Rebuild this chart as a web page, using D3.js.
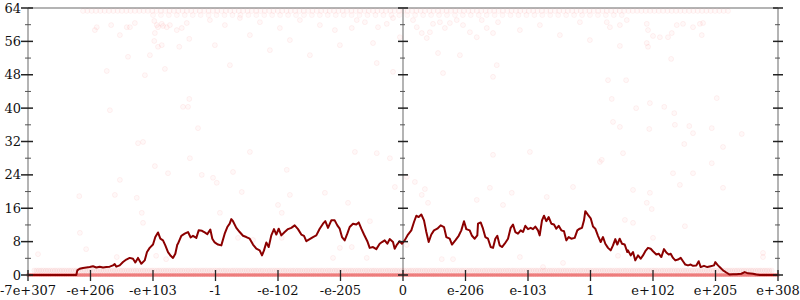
<!DOCTYPE html>
<html><head><meta charset="utf-8">
<script src="https://cdn.jsdelivr.net/npm/d3@7"></script>
<style>body{margin:0;background:#fff}svg{display:block}</style>
</head><body><svg id="c" width="800" height="300"></svg>
<script>
// ---- data ----
const xTickValues = [0,1,2,3,4,5,6,7,8,9,10,11,12];
const xTickLabels = ["-7e+307","-e+206","-e+103","-1","-e-102","-e-205","0","e-206","e-103","1","e+102","e+205","e+308"];
const yMajorTicks = [0,8,16,24,32,40,48,56,64];
const yMinorTicks = [4,12,20,28,36,44,52,60];

const lineX = [0,0.773,0.789,0.827,0.88,0.933,0.987,1.04,1.093,1.147,1.2,1.253,1.307,1.36,1.387,1.413,1.467,1.52,1.573,1.627,1.68,1.717,1.76,1.813,1.867,1.904,1.947,2.0,2.037,2.08,2.117,2.16,2.197,2.24,2.283,2.32,2.357,2.389,
2.4,2.453,2.507,2.56,2.603,2.64,2.693,2.731,2.784,2.827,2.869,2.917,2.949,2.987,3.04,3.093,3.147,3.189,3.227,3.253,3.28,3.333,3.387,3.44,3.493,3.547,3.6,3.653,3.707,3.744,3.776,3.813,3.851,3.893,3.936,3.973,4.011,4.053,4.107,4.16,4.213,4.267,4.32,4.373,4.416,4.453,4.507,4.56,4.613,4.667,4.72,4.757,
4.8,4.853,4.907,4.949,4.987,5.024,5.067,5.109,5.147,5.2,5.253,5.291,5.333,5.376,5.429,5.467,5.52,5.573,5.627,5.664,5.707,5.749,5.787,5.84,5.867,5.904,5.947,5.984,6.027,6.08,6.133,6.176,6.213,6.251,6.293,6.336,6.373,6.411,6.453,6.496,6.549,6.603,6.656,6.693,6.747,6.784,6.837,6.891,6.933,6.976,7.013,7.067,7.104,7.147,7.189,
7.2,7.243,7.28,7.317,7.36,7.403,7.44,7.477,7.509,7.547,7.584,7.627,7.68,7.723,7.76,7.797,7.84,7.883,7.92,7.957,8.0,8.043,8.08,8.117,8.16,8.187,8.224,8.256,8.293,8.331,8.373,8.416,8.453,8.491,8.533,8.576,8.613,8.651,8.693,8.747,8.789,8.827,8.864,8.896,8.917,8.96,9.003,9.04,9.077,9.12,9.163,9.2,9.237,9.28,9.323,9.36,9.397,9.429,9.467,9.504,9.547,9.589,
9.6,9.643,9.68,9.717,9.76,9.803,9.84,9.877,9.92,9.963,10.0,10.053,10.091,10.133,10.176,10.213,10.251,10.283,10.32,10.357,10.4,10.443,10.48,10.517,10.56,10.603,10.64,10.693,10.731,10.763,10.816,10.869,10.923,10.976,10.997,11.029,11.067,11.12,11.173,11.227,11.28,11.333,11.413,11.467,11.52,11.6,11.653,11.707,12];
const lineY = [0,0,1.1,1.5,1.7,1.8,1.9,2.1,1.8,2.0,1.8,1.9,2.0,2.3,2.6,2.0,2.3,3.1,3.7,4.1,3.9,3.0,4.1,2.7,3.5,5.5,6.5,7.3,9.1,10.2,8.7,8.3,7.1,5.5,4.6,4.1,5.1,7.3,
7.5,9.4,9.9,10.3,9.0,9.4,8.9,10.7,10.6,10.2,9.8,10.9,8.7,7.8,7.3,7.1,9.9,11.5,12.3,13.4,12.9,11.3,10.3,9.4,9.1,8.7,7.3,6.3,5.9,4.7,5.9,7.8,6.7,9.5,11.0,9.7,11.1,9.5,10.3,11.0,11.3,11.9,11.0,9.7,9.4,8.1,8.6,9.1,9.5,11.1,12.3,12.9,
11.3,13.1,13.1,11.9,11.1,9.1,8.3,9.9,11.5,12.3,12.1,12.6,11.1,9.7,8.1,6.5,6.7,6.2,7.5,7.9,8.3,7.5,8.6,7.9,6.3,7.3,8.1,7.5,8.3,9.7,10.7,12.7,14.2,13.9,14.5,13.1,10.3,7.9,9.7,10.7,11.1,11.9,11.5,9.1,8.7,7.3,8.3,9.4,10.7,12.9,11.0,10.7,9.4,8.7,9.5,
12.3,12.6,11.1,9.1,8.7,6.7,6.5,8.7,9.4,7.1,6.7,7.5,8.7,11.3,12.1,10.3,9.9,10.7,10.3,11.8,11.0,11.3,11.0,11.6,10.7,9.5,13.1,14.2,12.9,13.9,12.3,12.1,11.1,11.8,10.7,10.5,8.3,9.1,8.7,8.9,10.7,11.1,11.3,13.1,15.3,14.4,13.6,11.6,11.1,9.4,7.9,9.1,7.5,6.5,5.9,7.1,8.6,7.3,8.7,7.5,7.3,5.5,
5.9,4.7,5.5,3.5,4.7,3.9,4.7,5.7,6.5,6.3,5.7,4.9,5.1,4.3,6.2,5.4,4.9,5.1,4.1,3.5,3.7,4.1,3.3,2.5,2.3,2.5,2.2,2.3,3.3,1.9,2.2,1.9,2.1,2.3,3.1,2.5,1.9,1.1,0.6,0.1,0.2,0.2,0.3,0.7,0.4,0.3,0.1,0,0];

// sparse faint sample points
const sparseX = [1.10,1.07,1.33,1.47,1.58,1.63,1.71,2.02,2.06,2.08,2.14,2.16,2.22,2.27,2.38,2.46,2.54,2.03,2.02,2.14,2.08,1.60,1.95,2.42,2.58,1.26,1.87,2.19,1.31,2.48,2.56,2.58,1.76,1.84,2.72,
0.16,2.03,2.24,2.59,1.47,1.39,1.74,1.82,1.84,0.82,0.83,0.93,1.42,2.05,2.21,
3.55,5.23,5.58,5.79,2.78,2.96,3.02,3.28,3.42,4.14,4.00,4.19,4.06,4.75,5.12,5.47,4.88,5.42,4.99,5.18,4.06,3.60,3.36,3.07,5.87,
7.44,8.03,6.06,6.19,6.30,6.35,6.40,7.18,7.39,7.60,7.74,8.30,8.72,9.15,6.62,6.80,7.87,8.56,8.24,6.06,
9.52,9.18,10.94,10.32,10.64,9.68,9.95,10.43,11.12,9.90,9.98,9.55,9.68,10.51,10.00,9.44,11.76,11.76,
9.47,9.58,9.31,9.26,9.90,9.92,10.00,10.11,10.24,10.30,10.38,10.48,10.64,10.75,10.80,10.78,9.90,9.92,9.47,10.29,9.28,9.57,9.34,9.73,9.95,10.18,11.02,10.34,9.36,9.47,9.94,10.35,10.58,10.64,10.94,11.42,10.50,11.12,
5.26,5.39,5.60,5.74,5.84,6.16,6.22,6.30,6.43,6.48,6.59,6.67,6.75,6.86,6.96,7.07,7.18,7.26,7.34,7.44,7.52,5.52,5.18,6.56,6.91,5.58,5.84,6.64,7.50,7.44,5.95,6.38,
2.91,3.15,3.39,3.71,4.03,4.35,4.67,4.91,3.55,4.19,2.99,3.87,4.51,3.23,4.99,7.87,8.19,8.51,8.83,8.99];
const sparseY = [59.4,58.7,59.9,57.5,59.4,59.4,60.4,60.9,59.9,59.4,60.2,59.7,59.4,59.9,58.7,59.2,60.4,58.0,56.1,55.1,54.7,52.3,52.7,54.7,56.6,48.9,47.9,49.4,39.5,40.3,40.3,42.2,31.6,31.9,35.2,
5.0,26.1,24.4,28.0,22.8,19.2,18.5,14.9,12.5,18.9,10.1,6.2,4.3,4.6,3.8,
29.5,29.5,29.2,28.0,24.0,23.3,22.1,24.7,19.9,25.2,16.8,19.2,14.9,19.7,17.3,12.9,4.1,4.1,6.5,6.7,8.9,8.4,8.9,14.9,21.1,
28.8,29.5,23.5,22.3,19.2,20.6,17.3,18.0,20.9,16.8,19.7,18.7,21.1,27.1,3.8,3.8,4.3,2.9,1.9,7.2,
29.2,27.6,26.8,24.4,24.4,20.4,19.7,21.6,20.9,17.3,15.8,13.2,12.5,11.7,8.9,4.6,5.3,4.3,
59.9,61.1,59.4,60.6,60.2,58.7,57.3,57.0,57.0,58.0,59.9,60.2,59.4,60.2,60.4,57.5,55.6,54.7,54.9,51.8,46.7,46.7,42.2,40.0,41.2,40.3,42.4,38.8,36.7,35.5,35.0,36.0,35.7,34.0,35.2,33.8,31.4,30.7,
61.1,60.6,59.4,60.2,61.6,61.1,59.4,58.0,58.2,60.2,60.6,59.2,60.4,61.1,59.9,58.2,57.0,61.1,59.2,58.0,60.6,55.6,59.2,53.2,52.7,50.8,48.7,48.4,50.3,47.5,57.0,56.8,
61.1,59.9,61.6,60.6,59.2,61.1,59.9,58.7,57.5,56.3,55.1,53.9,52.7,50.3,55.1,58.7,59.9,57.5,60.6,56.3];

// dense bands of samples: [from, to] along x, value, number of samples
const bandFrom  = [0,    0.1,  0.88, 2.0];
const bandTo    = [12,   11.9, 11.2, 9.5];
const bandValue = [0,    1.1,  63.3, 62.3];
const bandCount = [420,  320,  150,  60];

// ---- drawing ----
const svg = d3.select("#c");
const x = d3.scaleLinear().domain([0, 12]).range([28, 778]);
const y = d3.scaleLinear().domain([0, 64]).range([275, 8]);
const font = "'DejaVu Serif', serif";

const grid = svg.append("g").attr("stroke", "#b4b4b4").attr("stroke-width", 2);
[0, 6, 12].forEach(v => grid.append("line").attr("x1", x(v)).attr("x2", x(v)).attr("y1", y(64)).attr("y2", y(0)));
grid.append("line").attr("x1", x(0)).attr("x2", x(12)).attr("y1", y(64)).attr("y2", y(64));

// band points
const bandStyles = [
  {fill: "#e01010", fo: 0.32, so: 0, r: 2},
  {fill: "#e03030", fo: 0.05, so: 0.05, r: 2.5},
  {fill: "#f03030", fo: 0.03, so: 0.06, r: 2.5},
  {fill: "#f03030", fo: 0.03, so: 0.05, r: 2.5}
];
bandFrom.forEach((f, b) => {
  const n = bandCount[b];
  const pts = d3.range(n).map(i => f + (bandTo[b] - f) * i / (n - 1));
  const st = bandStyles[b];
  svg.append("g").selectAll("circle").data(pts).join("circle")
    .attr("cx", d => x(d)).attr("cy", y(bandValue[b])).attr("r", st.r)
    .attr("fill", st.fill).attr("fill-opacity", st.fo)
    .attr("stroke", "#e02020").attr("stroke-opacity", st.so).attr("stroke-width", 0.8);
});

// sparse points
svg.append("g").selectAll("circle").data(sparseX.map((d, i) => [d, sparseY[i]])).join("circle")
  .attr("cx", d => x(d[0])).attr("cy", d => y(d[1])).attr("r", 2.5)
  .attr("fill", "#f02020").attr("fill-opacity", 0.03)
  .attr("stroke", "#f02020").attr("stroke-opacity", 0.07).attr("stroke-width", 0.8);

// main line
const lineData = lineX.map((d, i) => [d, lineY[i]]);
svg.append("path").datum(lineData)
  .attr("d", d3.line().x(d => x(d[0])).y(d => y(d[1])))
  .attr("fill", "none").attr("stroke", "#8b0000").attr("stroke-width", 2).attr("stroke-linejoin", "round");

// y ticks
const tk = svg.append("g").attr("stroke", "#222");
[[0, 7, 5, 3, 3], [6, 5, 5, 3, 2], [12, 5, 5, 3, 2]].forEach(([pos, l, r, ml, mr]) => {
  tk.selectAll(null).data(yMajorTicks).join("line")
    .attr("x1", x(pos) - l).attr("x2", x(pos) + r)
    .attr("y1", d => y(d)).attr("y2", d => y(d)).attr("stroke-width", 1.5);
  tk.selectAll(null).data(yMinorTicks).join("line")
    .attr("x1", x(pos) - ml).attr("x2", x(pos) + mr)
    .attr("y1", d => y(d)).attr("y2", d => y(d)).attr("stroke-width", 1).attr("stroke", "#555");
});
// x ticks
tk.selectAll(null).data(xTickValues).join("line")
  .attr("x1", d => x(d)).attr("x2", d => x(d))
  .attr("y1", y(0) - 5).attr("y2", y(0) + 6).attr("stroke-width", 1.3);

// labels
svg.append("g").selectAll("text").data(yMajorTicks).join("text")
  .attr("x", x(0) - 7).attr("y", d => y(d)).attr("dy", "0.35em")
  .attr("text-anchor", "end").attr("font-family", font).attr("font-size", 13).attr("fill", "#111")
  .text(d => d);
svg.append("g").selectAll("text").data(xTickValues).join("text")
  .attr("x", d => x(d)).attr("y", 295)
  .attr("text-anchor", "middle").attr("font-family", font).attr("font-size", 13).attr("fill", "#111")
  .text((d, i) => xTickLabels[i]);
</script></body></html>
